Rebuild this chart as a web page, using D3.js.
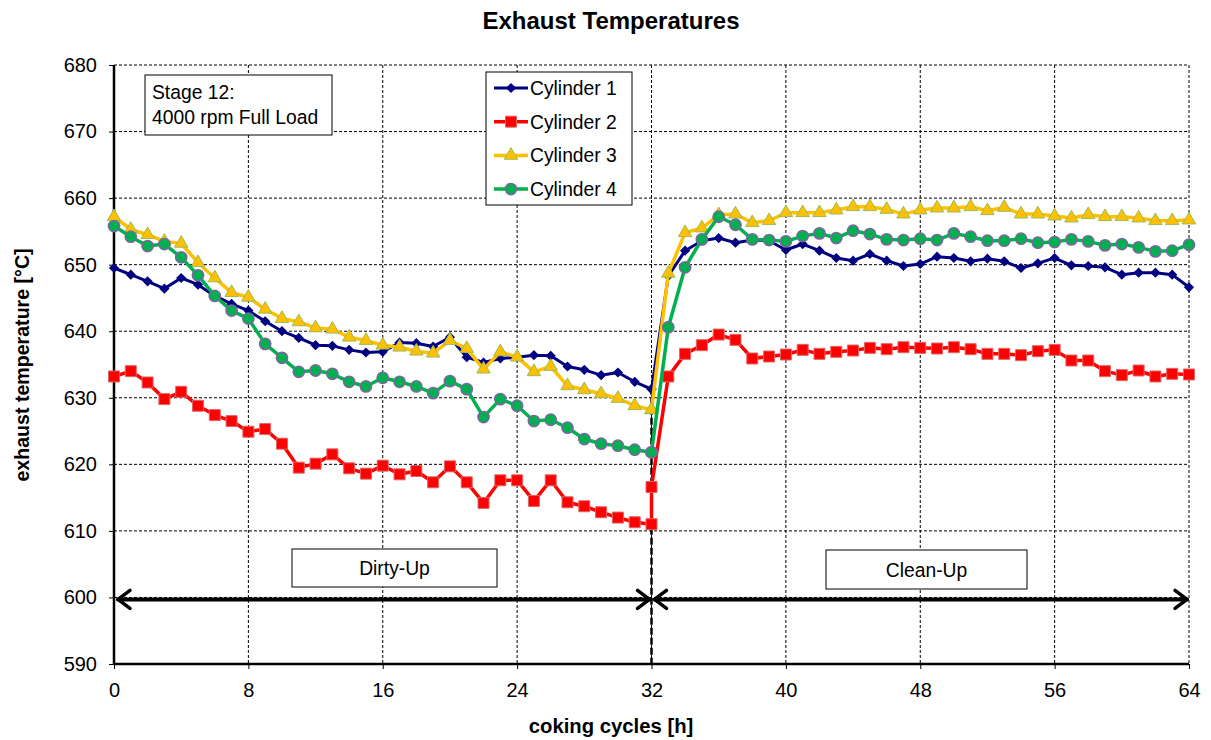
<!DOCTYPE html>
<html><head><meta charset="utf-8">
<script src="https://cdn.jsdelivr.net/npm/d3@7"></script>
<style>body{margin:0;background:#fff;} text{font-family:"Liberation Sans",Arial,sans-serif;}</style>
</head><body>
<svg id="c" width="1211" height="740"></svg>
<script>
// ---------- data ----------
const xDirty = d3.range(0, 33);      // 0..32
const xClean = d3.range(32, 65);     // 32..64
const xValues = xDirty.concat(xClean);

const cyl1 = [649.5,648.5,647.5,646.4,648,647,645.3,644.1,643.1,641.5,640,639,637.9,637.8,637.2,636.8,636.9,638.3,638.2,637.7,639.1,636.1,635.3,635.9,636.1,636.4,636.3,634.7,634.2,633.4,633.8,632.4,631.3,
  631.3,648.3,652.1,653.6,654,653.3,653.7,653.6,652.2,653.1,652.1,651,650.6,651.6,650.6,649.8,650.1,651.2,651,650.5,650.9,650.5,649.5,650.2,651,649.9,649.8,649.6,648.5,648.8,648.8,648.5,646.6];
const cyl2 = [633.2,634,632.3,629.8,630.9,628.8,627.4,626.5,624.9,625.3,623.1,619.5,620.1,621.5,619.4,618.6,619.8,618.5,619,617.3,619.7,617.3,614.2,617.6,617.6,614.5,617.6,614.3,613.7,612.8,612,611.3,611,
  616.6,633.2,636.6,637.9,639.5,638.7,635.9,636.2,636.5,637.2,636.6,636.9,637.1,637.5,637.3,637.6,637.5,637.4,637.6,637.3,636.6,636.6,636.4,637,637.2,635.6,635.6,634,633.4,634.1,633.2,633.6,633.5];
const cyl3 = [657.2,655.3,654.5,653.5,653.2,650.3,648,645.8,645.1,643.3,641.9,641.4,640.5,640.3,639.1,638.6,637.9,637.6,637,636.7,638.6,637.4,634.3,636.9,636.1,633.9,634.7,631.8,631.2,630.6,629.9,628.8,628.2,
  628.2,648.7,654.8,655.5,657.5,657.6,656.3,656.6,657.8,657.8,657.8,658.2,658.7,658.7,658.3,657.6,658.2,658.5,658.5,658.7,658.1,658.6,657.6,657.6,657.3,657,657.5,657.2,657.2,657,656.6,656.6,656.7];
const cyl4 = [655.8,654.2,652.8,653.1,651.1,648.4,645.3,643.1,641.9,638.1,636,633.9,634.1,633.6,632.4,631.7,633,632.4,631.7,630.7,632.5,631.3,627.1,629.8,628.8,626.5,626.7,625.5,623.8,623.1,622.8,622.2,621.8,
  621.8,640.6,649.6,653.8,657.2,656,653.8,653.7,653.5,654.3,654.7,654,655.1,654.6,653.8,653.7,653.9,653.7,654.7,654.2,653.6,653.6,653.9,653.3,653.4,653.8,653.5,652.9,653.1,652.6,652,652.1,653];

const seriesNames = ["Cylinder 1","Cylinder 2","Cylinder 3","Cylinder 4"];
const xTicks = [0,8,16,24,32,40,48,56,64];
const yTicks = [590,600,610,620,630,640,650,660,670,680];
const phaseLabels = ["Dirty-Up","Clean-Up"];
const phaseRanges = [[0,32],[32,64]];
const arrowValue = 600;
const switchX = 32, switchTop = 631.5;

// ---------- layout ----------
const svg = d3.select("#c");
const L = 114, R = 1189, T = 65, B = 664;
const x = d3.scaleLinear().domain([0,64]).range([L,R]);
const y = d3.scaleLinear().domain([590,680]).range([B,T]);
const FS = 19.3;

svg.append("text").attr("x",611).attr("y",29).attr("text-anchor","middle")
  .attr("font-size",24).attr("font-weight","bold").text("Exhaust Temperatures");

// grid
const g = svg.append("g");
g.selectAll(".vg").data(xTicks.filter(d=>d>0)).join("line")
  .attr("x1",d=>x(d)).attr("x2",d=>x(d)).attr("y1",T).attr("y2",B)
  .attr("stroke","#000").attr("stroke-width",1).attr("stroke-dasharray","3,2");
g.selectAll(".hg").data(yTicks.filter(d=>d>590)).join("line")
  .attr("x1",L).attr("x2",R).attr("y1",d=>y(d)).attr("y2",d=>y(d))
  .attr("stroke","#000").attr("stroke-width",1).attr("stroke-dasharray","3,2");

// axes
const yAxis = svg.append("g").attr("transform",`translate(${L},0)`)
  .call(d3.axisLeft(y).tickValues(yTicks).tickSize(5).tickPadding(12));
const xAxis = svg.append("g").attr("transform",`translate(0,${B})`)
  .call(d3.axisBottom(x).tickValues(xTicks).tickSize(5).tickPadding(14));
[yAxis,xAxis].forEach(a=>{
  a.select(".domain").attr("stroke","#000").attr("stroke-width",2.5);
  a.selectAll(".tick line").attr("stroke","#000").attr("stroke-width",1);
  a.selectAll(".tick text").attr("font-size",20).attr("fill","#000")
    .attr("font-family","'Liberation Sans',Arial,sans-serif");
});
yAxis.select(".domain").attr("d",`M0,${T}V${B}`);
xAxis.select(".domain").attr("d",`M${L},0H${R}`);

svg.append("text").attr("transform","translate(29,365) rotate(-90)").attr("text-anchor","middle")
  .attr("font-size",19.6).attr("font-weight","bold").text("exhaust temperature [°C]");
svg.append("text").attr("x",611).attr("y",733).attr("text-anchor","middle")
  .attr("font-size",20.3).attr("font-weight","bold").text("coking cycles [h]");

// switch line
svg.append("line").attr("x1",x(switchX)).attr("x2",x(switchX)).attr("y1",y(switchTop)).attr("y2",B)
  .attr("stroke","#000").attr("stroke-width",2.5).attr("stroke-dasharray","7,3");

// phase arrows
const ay = y(arrowValue) + 2;
phaseRanges.forEach((r,i)=>{
  const x1 = x(r[0]) + (i===0?4:3), x2 = x(r[1]) - 2;
  const ga = svg.append("g").attr("stroke","#000").attr("fill","none").attr("stroke-linecap","round").attr("stroke-linejoin","round");
  ga.append("line").attr("x1",x1).attr("x2",x2).attr("y1",ay).attr("y2",ay).attr("stroke-width",4);
  ga.append("path").attr("d",`M${x1+12},${ay-9}L${x1},${ay}L${x1+12},${ay+9}`).attr("stroke-width",3.5);
  ga.append("path").attr("d",`M${x2-12},${ay-9}L${x2},${ay}L${x2-12},${ay+9}`).attr("stroke-width",3.5);
});
// phase labels
const phaseBoxes = [[292,549,205,38],[826,550,201,39]];
phaseLabels.forEach((t,i)=>{
  const b = phaseBoxes[i];
  svg.append("rect").attr("x",b[0]).attr("y",b[1]).attr("width",b[2]).attr("height",b[3])
    .attr("fill","#fff").attr("stroke","#000").attr("stroke-width",1);
  svg.append("text").attr("x",b[0]+b[2]/2).attr("y",b[1]+b[3]/2+7).attr("text-anchor","middle")
    .attr("font-size",FS).text(t);
});

// series
const styles = [
  {line:"#000080", fill:"#000080", stroke:"#000080", sw:0, sym:d3.symbolSquare, size:52, rot:45, lw:3},
  {line:"#FF0000", fill:"#FF0000", stroke:"#E06666", sw:1, sym:d3.symbolSquare, size:121, rot:0, lw:3.5},
  {line:"#FFC000", fill:"#FFC000", stroke:"#9BBB59", sw:1, sym:d3.symbolTriangle, size:78, rot:0, lw:3.5},
  {line:"#00B050", fill:"#00B050", stroke:"#8064A2", sw:1.5, sym:d3.symbolCircle, size:100, rot:0, lw:3.5}
];
const allSeries = [cyl1,cyl2,cyl3,cyl4];
const lineGen = d3.line().x(d=>x(d[0])).y(d=>y(d[1]));
allSeries.forEach((vals,i)=>{
  const st = styles[i];
  const pts = xValues.map((xv,j)=>[xv, vals[j]]);
  const sg = svg.append("g");
  sg.append("path").attr("d",lineGen(pts)).attr("fill","none").attr("stroke",st.line)
    .attr("stroke-width",st.lw).attr("stroke-linejoin","round");
  sg.selectAll("path.m").data(pts).join("path").attr("class","m")
    .attr("d",d3.symbol().type(st.sym).size(st.size))
    .attr("transform",d=>`translate(${x(d[0])},${y(d[1])}) rotate(${st.rot})`)
    .attr("fill",st.fill).attr("stroke",st.stroke).attr("stroke-width",st.sw);
});

// stage box
svg.append("rect").attr("x",145).attr("y",75).attr("width",187).attr("height",60)
  .attr("fill","#fff").attr("stroke","#000").attr("stroke-width",1);
svg.append("text").attr("x",152).attr("y",99).attr("font-size",FS).text("Stage 12:");
svg.append("text").attr("x",152).attr("y",124).attr("font-size",FS).text("4000 rpm Full Load");

// legend
svg.append("rect").attr("x",486).attr("y",72).attr("width",146).attr("height",133)
  .attr("fill","#fff").attr("stroke","#000").attr("stroke-width",1);
seriesNames.forEach((n,i)=>{
  const st = styles[i];
  const ly = 88 + i*33.7;
  svg.append("line").attr("x1",494).attr("x2",528).attr("y1",ly).attr("y2",ly)
    .attr("stroke",st.line).attr("stroke-width",st.lw);
  svg.append("path").attr("d",d3.symbol().type(st.sym).size(st.size)())
    .attr("transform",`translate(511,${ly}) rotate(${st.rot})`)
    .attr("fill",st.fill).attr("stroke",st.stroke).attr("stroke-width",st.sw);
  svg.append("text").attr("x",530).attr("y",ly+7).attr("font-size",FS).text(n);
});
</script>
</body></html>
